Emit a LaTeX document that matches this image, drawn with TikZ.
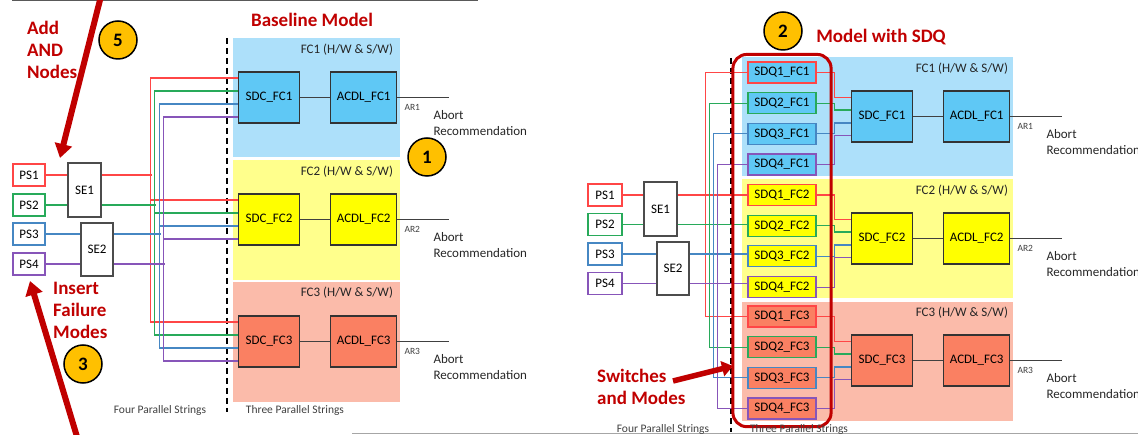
\documentclass[tikz,border=0pt]{standalone}
\usepackage{fontspec}
\setmainfont{Carlito}
\usetikzlibrary{arrows.meta, positioning, fit}
\definecolor{fcblue}{RGB}{173,224,250}
\definecolor{fcyellow}{RGB}{255,255,140}
\definecolor{fcsalmon}{RGB}{251,187,170}
\definecolor{boxblue}{RGB}{95,200,245}
\definecolor{boxyellow}{RGB}{255,255,0}
\definecolor{boxsalmon}{RGB}{250,128,98}
\definecolor{strred}{RGB}{255,70,70}
\definecolor{strgreen}{RGB}{40,170,90}
\definecolor{strblue}{RGB}{70,135,195}
\definecolor{strpurple}{RGB}{135,85,185}
\definecolor{darkred}{RGB}{192,0,0}
\definecolor{badge}{RGB}{255,192,0}
\tikzset{
  region/.style = {rectangle, inner sep=0pt, minimum height=119pt},
  fclabel/.style = {font=\fontsize{13}{15}\selectfont, text=black!85, anchor=east, inner sep=0pt},
  block/.style = {rectangle, draw=black!80, line width=1.2pt, inner sep=0pt, minimum width=61pt, minimum height=51pt, font=\fontsize{13}{15}\selectfont},
  sdqbox/.style = {rectangle, line width=1.2pt, inner sep=0pt, minimum width=68pt, minimum height=21pt, font=\fontsize{13}{15}\selectfont},
  psbox/.style = {rectangle, fill=white, line width=1.2pt, inner sep=0pt, minimum width=32pt, minimum height=22pt, font=\fontsize{13}{15}\selectfont},
  sebox/.style = {rectangle, fill=white, draw=black!70, line width=1.2pt, inner sep=0pt, minimum width=33pt, minimum height=54pt, font=\fontsize{13}{15}\selectfont},
  wire/.style = {line width=1.1pt},
  linkline/.style = {line width=1.1pt, draw=black!75},
  artext/.style = {font=\fontsize{9.5}{11}\selectfont, text=black!75, inner sep=0pt},
  abort/.style = {font=\fontsize{13}{16}\selectfont, align=left, anchor=west, text=black!85, inner sep=0pt},
  strings/.style = {font=\fontsize{11.5}{13}\selectfont, text=black!75, inner sep=0pt},
  heading/.style = {font=\bfseries\fontsize{19}{22}\selectfont, text=darkred, inner sep=0pt},
  note/.style = {font=\bfseries\fontsize{19}{22}\selectfont, text=darkred, align=left, anchor=west, inner sep=0pt},
  badgecircle/.style = {circle, fill=badge, draw=black, line width=1.5pt, minimum size=38pt, inner sep=0pt, font=\bfseries\fontsize{19}{22}\selectfont},
  redarrow/.style = {draw=darkred, line width=6pt, -{Triangle[length=14pt, width=17pt]}},
  divider/.style = {dash pattern=on 6pt off 4pt, line width=2pt},
  groupbox/.style = {draw=darkred, line width=3pt, rounded corners=14pt, inner xsep=14.5pt, inner ysep=7pt}
}

\begin{document}
\begin{tikzpicture}[x=1pt, y=-1pt]
\useasboundingbox (0,0) rectangle (1138,435);

% frames of the two screenshots
\draw[black!65, line width=1.5pt] (12,0.75) -- (478,0.75);
\draw[black!35, line width=1pt] (352,433.5) -- (1138,433.5);

% ---------------- Baseline model ----------------
\node[region, fill=fcblue, minimum width=167pt] (fc1L) at (316.5,97.5) {};
\node[region, fill=fcyellow, minimum width=167pt, minimum height=120pt] (fc2L) at (316.5,220) {};
\node[region, fill=fcsalmon, minimum width=167pt, minimum height=120pt] (fc3L) at (316.5,342) {};
\node[fclabel] (fc1Lname) at ([xshift=-7pt, yshift=-12pt]fc1L.north east) {FC1 (H/W \& S/W)};
\node[fclabel] (fc2Lname) at ([xshift=-7pt, yshift=-12pt]fc2L.north east) {FC2 (H/W \& S/W)};
\node[fclabel] (fc3Lname) at ([xshift=-7pt, yshift=-11pt]fc3L.north east) {FC3 (H/W \& S/W)};

\node[block, fill=boxblue] (sdc1L) at (269,97.5) {SDC\_FC1};
\node[block, fill=boxblue, minimum width=66pt, right=30pt of sdc1L] (acdl1L) {ACDL\_FC1};
\node[block, fill=boxyellow] (sdc2L) at (269,219.5) {SDC\_FC2};
\node[block, fill=boxyellow, minimum width=66pt, right=30pt of sdc2L] (acdl2L) {ACDL\_FC2};
\node[block, fill=boxsalmon] (sdc3L) at (269,341.5) {SDC\_FC3};
\node[block, fill=boxsalmon, minimum width=66pt, right=30pt of sdc3L] (acdl3L) {ACDL\_FC3};

\node[psbox, draw=strred] (ps1L) at (29,175) {PS1};
\node[psbox, draw=strgreen] (ps2L) at (29,205) {PS2};
\node[psbox, draw=strblue] (ps3L) at (29,234) {PS3};
\node[psbox, draw=strpurple] (ps4L) at (29,264) {PS4};
\node[sebox] (se1L) at (84.5,190) {SE1};
\node[sebox, minimum width=32pt, minimum height=53pt] (se2L) at (97,249.5) {SE2};

\draw[divider] (227,38) -- (227,412);

% strings into the SDCs
\draw[wire, strred] (ps1L.east) -- (ps1L -| se1L.west);
\draw[wire, strred] (ps1L -| se1L.east) -- ++(50pt,0pt);
\draw[wire, strred] ([yshift=19.5pt]sdc1L.west) -- ++(-87.5pt,0pt) |- ([yshift=19.5pt]sdc3L.west);
\draw[wire, strred] ([yshift=19.5pt]sdc2L.west) -- ++(-87.5pt,0pt);
\draw[wire, strgreen] (ps2L.east) -- (ps2L -| se1L.west);
\draw[wire, strgreen] (ps2L -| se1L.east) -- ++(54pt,0pt);
\draw[wire, strgreen] ([yshift=6.5pt]sdc1L.west) -- ++(-83.5pt,0pt) |- ([yshift=6.5pt]sdc3L.west);
\draw[wire, strgreen] ([yshift=6.5pt]sdc2L.west) -- ++(-83.5pt,0pt);
\draw[wire, strblue] (ps3L.east) -- (ps3L -| se2L.west);
\draw[wire, strblue] (ps3L -| se2L.east) -- ++(47pt,0pt);
\draw[wire, strblue] ([yshift=-6.5pt]sdc1L.west) -- ++(-78.5pt,0pt) |- ([yshift=-6.5pt]sdc3L.west);
\draw[wire, strblue] ([yshift=-6.5pt]sdc2L.west) -- ++(-78.5pt,0pt);
\draw[wire, strpurple] (ps4L.east) -- (ps4L -| se2L.west);
\draw[wire, strpurple] (ps4L -| se2L.east) -- ++(51pt,0pt);
\draw[wire, strpurple] ([yshift=-19.5pt]sdc1L.west) -- ++(-74.5pt,0pt) |- ([yshift=-19.5pt]sdc3L.west);
\draw[wire, strpurple] ([yshift=-19.5pt]sdc2L.west) -- ++(-74.5pt,0pt);

% SDC to ACDL to abort recommendation
\draw[linkline] (sdc1L) -- (acdl1L);
\draw[linkline] (sdc2L) -- (acdl2L);
\draw[linkline] (sdc3L) -- (acdl3L);
\coordinate (out1L) at ([xshift=52pt]acdl1L.east);
\coordinate (out2L) at ([xshift=52pt]acdl2L.east);
\coordinate (out3L) at ([xshift=52pt]acdl3L.east);
\draw[linkline] (acdl1L.east) -- (out1L);
\draw[linkline] (acdl2L.east) -- (out2L);
\draw[linkline] (acdl3L.east) -- (out3L);
\node[artext] (ar1L) at ([xshift=15pt, yshift=-9.5pt]acdl1L.east) {AR1};
\node[artext] (ar2L) at ([xshift=15pt, yshift=-9.5pt]acdl2L.east) {AR2};
\node[artext] (ar3L) at ([xshift=15pt, yshift=-9.5pt]acdl3L.east) {AR3};
\node[abort] (rec1L) at ([xshift=36pt, yshift=-26pt]acdl1L.east) {Abort\\Recommendation};
\node[abort] (rec2L) at ([xshift=36pt, yshift=-26pt]acdl2L.east) {Abort\\Recommendation};
\node[abort] (rec3L) at ([xshift=36pt, yshift=-26pt]acdl3L.east) {Abort\\Recommendation};

\node[heading] (baseTitle) at (312,20) {Baseline Model};
\node[strings] (fourL) at (160,410) {Four Parallel Strings};
\node[strings] (threeL) at (295,410) {Three Parallel Strings};

% ---------------- Model with SDQ ----------------
\node[region, fill=fcblue, minimum width=271pt] (fc1R) at (877.5,116.5) {};
\node[region, fill=fcyellow, minimum width=271pt] (fc2R) at (877.5,238.5) {};
\node[region, fill=fcsalmon, minimum width=271pt] (fc3R) at (877.5,361.5) {};
\node[fclabel] (fc1Rname) at ([xshift=-5pt, yshift=-11.5pt]fc1R.north east) {FC1 (H/W \& S/W)};
\node[fclabel] (fc2Rname) at ([xshift=-5pt, yshift=-12pt]fc2R.north east) {FC2 (H/W \& S/W)};
\node[fclabel] (fc3Rname) at ([xshift=-5pt, yshift=-11pt]fc3R.north east) {FC3 (H/W \& S/W)};

\node[sdqbox, fill=boxblue, draw=strred] (sdq11) at (782,72.5) {SDQ1\_FC1};
\node[sdqbox, fill=boxblue, draw=strgreen, below=8.5pt of sdq11] (sdq12) {SDQ2\_FC1};
\node[sdqbox, fill=boxblue, draw=strblue, below=8.5pt of sdq12] (sdq13) {SDQ3\_FC1};
\node[sdqbox, fill=boxblue, draw=strpurple, below=8.5pt of sdq13] (sdq14) {SDQ4\_FC1};
\node[sdqbox, fill=boxyellow, draw=strred] (sdq21) at (782,195) {SDQ1\_FC2};
\node[sdqbox, fill=boxyellow, draw=strgreen, below=8.5pt of sdq21] (sdq22) {SDQ2\_FC2};
\node[sdqbox, fill=boxyellow, draw=strblue, below=8.5pt of sdq22] (sdq23) {SDQ3\_FC2};
\node[sdqbox, fill=boxyellow, draw=strpurple, below=8.5pt of sdq23] (sdq24) {SDQ4\_FC2};
\node[sdqbox, fill=boxsalmon, draw=strred] (sdq31) at (782,316.5) {SDQ1\_FC3};
\node[sdqbox, fill=boxsalmon, draw=strgreen, below=8.5pt of sdq31] (sdq32) {SDQ2\_FC3};
\node[sdqbox, fill=boxsalmon, draw=strblue, below=8.5pt of sdq32] (sdq33) {SDQ3\_FC3};
\node[sdqbox, fill=boxsalmon, draw=strpurple, below=8.5pt of sdq33] (sdq34) {SDQ4\_FC3};

\node[block, fill=boxblue] (sdc1R) at (882,116.5) {SDC\_FC1};
\node[block, fill=boxblue, minimum width=66pt, right=30pt of sdc1R] (acdl1R) {ACDL\_FC1};
\node[block, fill=boxyellow] (sdc2R) at (882,238.5) {SDC\_FC2};
\node[block, fill=boxyellow, minimum width=66pt, right=30pt of sdc2R] (acdl2R) {ACDL\_FC2};
\node[block, fill=boxsalmon] (sdc3R) at (882,360.5) {SDC\_FC3};
\node[block, fill=boxsalmon, minimum width=66pt, right=30pt of sdc3R] (acdl3R) {ACDL\_FC3};

\node[psbox, draw=strred, minimum width=34pt] (ps1R) at (605,195) {PS1};
\node[psbox, draw=strgreen, minimum width=34pt] (ps2R) at (605,224.5) {PS2};
\node[psbox, draw=strblue, minimum width=34pt] (ps3R) at (605,254) {PS3};
\node[psbox, draw=strpurple, minimum width=34pt] (ps4R) at (605,283.5) {PS4};
\node[sebox] (se1R) at (660.5,209) {SE1};
\node[sebox, minimum width=32pt, minimum height=53pt] (se2R) at (673,268.5) {SE2};

\draw[divider, line width=1.6pt] (731,58) -- (731,432);

% strings into the SDQs
\draw[wire, strred] (ps1R.east) -- (ps1R -| se1R.west);
\draw[wire, strred] (ps1R -| se1R.east) -- (ps1R -| sdq21.west);
\draw[wire, strred] (sdq11.west) -- ++(-42pt,0pt) |- (sdq31.west);
\draw[wire, strgreen] (ps2R.east) -- (ps2R -| se1R.west);
\draw[wire, strgreen] (ps2R -| se1R.east) -- (ps2R -| sdq22.west);
\draw[wire, strgreen] (sdq12.west) -- ++(-38pt,0pt) |- (sdq32.west);
\draw[wire, strblue] (ps3R.east) -- (ps3R -| se2R.west);
\draw[wire, strblue] (ps3R -| se2R.east) -- (ps3R -| sdq23.west);
\draw[wire, strblue] (sdq13.west) -- ++(-34pt,0pt) |- (sdq33.west);
\draw[wire, strpurple] (ps4R.east) -- (ps4R -| se2R.west);
\draw[wire, strpurple] (ps4R -| se2R.east) -- (ps4R -| sdq24.west);
\draw[wire, strpurple] (sdq14.west) -- ++(-29.5pt,0pt) |- (sdq34.west);

% SDQs into the SDCs
\draw[wire, strred] (sdq11.east) -- ++(18pt,0pt) |- ([yshift=19pt]sdc1R.west);
\draw[wire, strgreen] (sdq12.east) -- ++(18pt,0pt) |- ([yshift=6.5pt]sdc1R.west);
\draw[wire, strblue] (sdq13.east) -- ++(18pt,0pt) |- ([yshift=-6.5pt]sdc1R.west);
\draw[wire, strpurple] (sdq14.east) -- ++(18pt,0pt) |- ([yshift=-19pt]sdc1R.west);
\draw[wire, strred] (sdq21.east) -- ++(18pt,0pt) |- ([yshift=19pt]sdc2R.west);
\draw[wire, strgreen] (sdq22.east) -- ++(18pt,0pt) |- ([yshift=6.5pt]sdc2R.west);
\draw[wire, strblue] (sdq23.east) -- ++(18pt,0pt) |- ([yshift=-6.5pt]sdc2R.west);
\draw[wire, strpurple] (sdq24.east) -- ++(18pt,0pt) |- ([yshift=-19pt]sdc2R.west);
\draw[wire, strred] (sdq31.east) -- ++(18pt,0pt) |- ([yshift=19pt]sdc3R.west);
\draw[wire, strgreen] (sdq32.east) -- ++(18pt,0pt) |- ([yshift=6.5pt]sdc3R.west);
\draw[wire, strblue] (sdq33.east) -- ++(18pt,0pt) |- ([yshift=-6.5pt]sdc3R.west);
\draw[wire, strpurple] (sdq34.east) -- ++(18pt,0pt) |- ([yshift=-19pt]sdc3R.west);

% SDC to ACDL to abort recommendation
\draw[linkline] (sdc1R) -- (acdl1R);
\draw[linkline] (sdc2R) -- (acdl2R);
\draw[linkline] (sdc3R) -- (acdl3R);
\coordinate (out1R) at ([xshift=52pt]acdl1R.east);
\coordinate (out2R) at ([xshift=52pt]acdl2R.east);
\coordinate (out3R) at ([xshift=52pt]acdl3R.east);
\draw[linkline] (acdl1R.east) -- (out1R);
\draw[linkline] (acdl2R.east) -- (out2R);
\draw[linkline] (acdl3R.east) -- (out3R);
\node[artext] (ar1R) at ([xshift=15pt, yshift=-10pt]acdl1R.east) {AR1};
\node[artext] (ar2R) at ([xshift=15pt, yshift=-10pt]acdl2R.east) {AR2};
\node[artext] (ar3R) at ([xshift=15pt, yshift=-10pt]acdl3R.east) {AR3};
\node[abort] (rec1R) at ([xshift=36pt, yshift=-26pt]acdl1R.east) {Abort\\Recommendation};
\node[abort] (rec2R) at ([xshift=36pt, yshift=-26pt]acdl2R.east) {Abort\\Recommendation};
\node[abort] (rec3R) at ([xshift=36pt, yshift=-26pt]acdl3R.east) {Abort\\Recommendation};

\node[groupbox, fit=(sdq11)(sdq34)] (sdqgroup) {};

\node[heading] (sdqTitle) at (881,37) {Model with SDQ};
\node[strings] (fourR) at (663,429) {Four Parallel Strings};
\node[strings] (threeR) at (799,429.5) {Three Parallel Strings};

% ---------------- annotations ----------------
\node[note] (addNote) at (27,50) {Add\\AND\\Nodes};
\node[note] (failNote) at (53,310) {Insert\\Failure\\Modes};
\node[note] (switchNote) at (597,386.5) {Switches\\and Modes};

\coordinate (from5) at (101,-4);
\coordinate (to5) at (60,158);
\coordinate (from3) at (78,440);
\coordinate (to3) at (30,281);
\coordinate (fromSw) at (673,381);
\coordinate (toSw) at (733,366);
\draw[redarrow] (from5) -- (to5);
\draw[redarrow] (from3) -- (to3);
\draw[redarrow, line width=5.5pt, -{Triangle[length=11pt, width=15pt]}] (fromSw) -- (toSw);

\node[badgecircle] (badge5) at (118,40) {5};
\node[badgecircle] (badge1) at (427,157) {1};
\node[badgecircle] (badge3) at (83,364) {3};
\node[badgecircle] (badge2) at (783,31) {2};

\end{tikzpicture}
\end{document}
